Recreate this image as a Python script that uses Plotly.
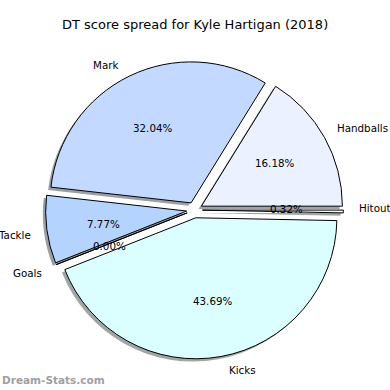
import math
import plotly.graph_objects as go

# ---- data ----
labels = ["Hitout", "Handballs", "Mark", "Tackle", "Goals", "Kicks"]
values = [0.32, 16.18, 32.04, 7.77, 0.00, 43.69]
colors = ["#f3f6ff", "#ebf1ff", "#c4d9ff", "#b5d3ff", "#ffffff", "#dbffff"]
title = "DT score spread for Kyle Hartigan (2018)"
watermark = "Dream-Stats.com"

# ---- layout constants (pixels) ----
W, H = 390, 390
CX, CY = 194.5, 210    # pie centre
R = 141                # pie radius
EXPLODE = 0.056        # fraction of radius
SHADOW = 0.02          # shadow offset, fraction of radius
LABEL_DIST = 1.1
PCT_DIST = 0.6
FONT = "DejaVu Sans"
TXT = 10.3


def hex_to_rgb(h):
    h = h.lstrip("#")
    return tuple(int(h[i:i + 2], 16) for i in (0, 2, 4))


def domain_for(cx, cy):
    h = R * (1 + EXPLODE)
    return dict(x=[(cx - h) / W, (cx + h) / W],
                y=[1 - (cy + h) / H, 1 - (cy - h) / H])


shadow_colors = []
for c in colors:
    r, g, b = hex_to_rgb(c)
    shadow_colors.append(f"rgba({int(r*0.3)},{int(g*0.3)},{int(b*0.3)},0.5)")

pulls = [EXPLODE] * len(values)

fig = go.Figure()
# shadow
fig.add_trace(go.Pie(
    labels=labels, values=values, sort=False, direction="counterclockwise",
    rotation=90, pull=pulls, textinfo="none", hoverinfo="skip",
    marker=dict(colors=shadow_colors, line=dict(width=0)),
    domain=domain_for(CX - SHADOW * R, CY + SHADOW * R), showlegend=False,
))
# main pie
fig.add_trace(go.Pie(
    labels=labels, values=values, sort=False, direction="counterclockwise",
    rotation=90, pull=pulls, textinfo="none",
    marker=dict(colors=colors, line=dict(color="#000000", width=1)),
    domain=domain_for(CX, CY), showlegend=False,
))

annotations = []
total = sum(values)
start = 0.0
for lab, v in zip(labels, values):
    span = 360.0 * v / total
    mid = math.radians(start + span / 2)
    start += span
    ox = CX + EXPLODE * R * math.cos(mid)
    oy = CY - EXPLODE * R * math.sin(mid)
    lx = ox + LABEL_DIST * R * math.cos(mid)
    ly = oy - LABEL_DIST * R * math.sin(mid)
    px = ox + PCT_DIST * R * math.cos(mid)
    py = oy - PCT_DIST * R * math.sin(mid)
    annotations.append(dict(
        x=lx / W, y=1 - ly / H, xref="paper", yref="paper", text=lab,
        showarrow=False, xanchor="left" if math.cos(mid) > 0 else "right",
        yanchor="middle", font=dict(family=FONT, size=TXT, color="#000000")))
    annotations.append(dict(
        x=px / W, y=1 - py / H, xref="paper", yref="paper",
        text=f"{v:.2f}%", showarrow=False, xanchor="center", yanchor="middle",
        font=dict(family=FONT, size=TXT, color="#000000")))

annotations.append(dict(
    x=0.5, y=1 - 25 / H, xref="paper", yref="paper", text=title,
    showarrow=False, xanchor="center", yanchor="middle",
    font=dict(family=FONT, size=13, color="#000000")))
annotations.append(dict(
    x=0, y=1 - 380 / H, xref="paper", yref="paper", text=f"<b>{watermark}</b>",
    showarrow=False, xanchor="left", yanchor="middle",
    font=dict(family=FONT, size=10.5, color="#a0a0a0")))

fig.update_layout(
    width=W, height=H, margin=dict(l=0, r=0, t=0, b=0),
    paper_bgcolor="white", plot_bgcolor="white",
    annotations=annotations, showlegend=False,
)

fig.write_html(
    "out.html",
    config={"displayModeBar": False},
    post_script="document.body.style.margin='0px';document.body.style.overflow='hidden';",
)
